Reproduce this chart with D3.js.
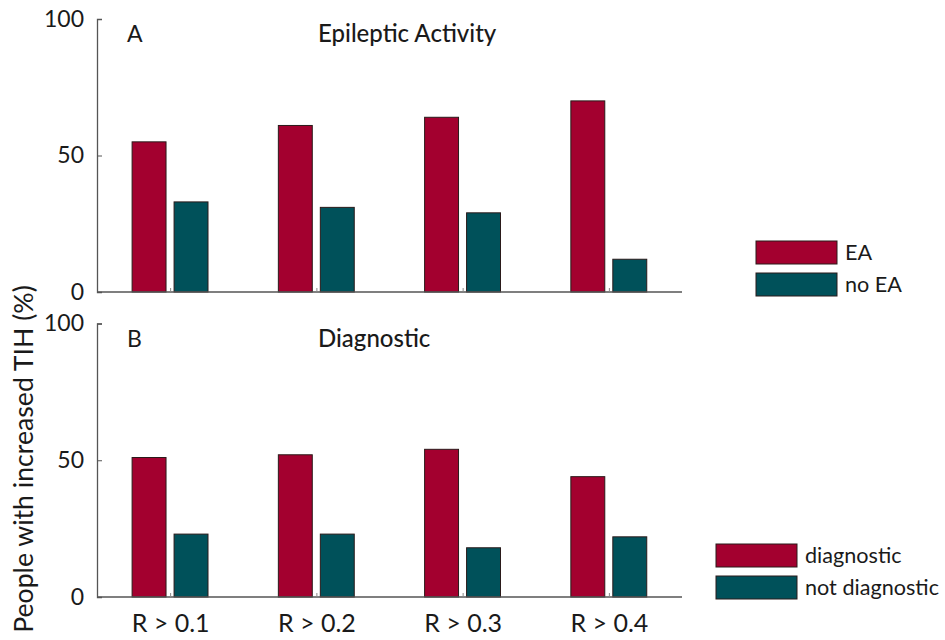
<!DOCTYPE html>
<html>
<head>
<meta charset="utf-8">
<script src="https://d3js.org/d3.v7.min.js"></script>
<style>
  html, body { margin: 0; padding: 0; background: #fff; }
  svg { display: block; }
  text { font-family: Lato, "Open Sans", sans-serif; fill: #1a1a1a; }
</style>
</head>
<body>
<svg id="chart" width="945" height="640"></svg>
<script>
// ---- data ----
const categories = ["R > 0.1", "R > 0.2", "R > 0.3", "R > 0.4"];
const eaValues = [55, 61, 64, 70];
const noEaValues = [33, 31, 29, 12];
const diagnosticValues = [51, 52, 54, 44];
const notDiagnosticValues = [23, 23, 18, 22];
const yTicks = [0, 50, 100];
const panelALabels = { letter: "A", title: "Epileptic Activity", series: ["EA", "no EA"] };
const panelBLabels = { letter: "B", title: "Diagnostic", series: ["diagnostic", "not diagnostic"] };
const yAxisTitle = "People with increased TIH (%)";

// ---- style ----
const colors = ["#A3002F", "#00515A"];
const axisColor = "#555";

const svg = d3.select("#chart");

// legend font size fitted so "not diagnostic" spans ~134px
const probe = svg.append("text").attr("font-size", 24).text("not diagnostic");
const legendFont = 24 * 134 / probe.node().getComputedTextLength();
probe.remove();

const x = d3.scaleLinear().domain([0.5, categories.length + 0.5]).range([97, 682]);
const barW = 0.232;
const offsets = [-0.26, 0.027];

function panel(cfg) {
  const y = d3.scaleLinear().domain([0, 100]).range([cfg.y0, cfg.y100]);
  const g = svg.append("g");
  const series = [cfg.a, cfg.b];

  // bars
  series.forEach((vals, s) => {
    g.selectAll(null).data(vals).enter().append("rect")
      .attr("x", (d, i) => x(i + 1 + offsets[s]))
      .attr("width", x(1 + barW) - x(1))
      .attr("y", d => y(d))
      .attr("height", d => y(0) - y(d))
      .attr("fill", colors[s])
      .attr("stroke", "#2a1a1a")
      .attr("stroke-width", 1);
  });

  // y axis
  const yAxis = d3.axisLeft(y).tickValues(yTicks).tickSize(-5).tickPadding(13).tickFormat(d3.format("d"));
  const ya = g.append("g").attr("transform", `translate(${x(0.5)},0)`).call(yAxis);
  ya.select(".domain").attr("stroke", axisColor).attr("stroke-width", 1.3);
  ya.selectAll(".tick line").attr("stroke", axisColor);
  ya.selectAll(".tick text").attr("font-family", "'Open Sans', sans-serif").attr("font-size", 23).attr("fill", "#222");

  // x axis
  const xAxis = d3.axisBottom(x).tickValues(d3.range(1, categories.length + 1))
    .tickSize(-4).tickPadding(16).tickFormat(d => cfg.showX ? categories[d - 1] : "");
  const xa = g.append("g").attr("transform", `translate(0,${y(0)})`).call(xAxis);
  xa.select(".domain").attr("stroke", axisColor).attr("stroke-width", 1.3)
    .attr("d", `M${x(0.5)},0H${x(categories.length + 0.5)}`);
  xa.selectAll(".tick line").attr("stroke", "#888");
  xa.selectAll(".tick text").attr("font-size", 25).attr("fill", "#222").attr("dy", "0.75em");

  // panel letter + title
  g.append("text").attr("x", 127).attr("y", cfg.y100 + 23).attr("font-size", 23).text(cfg.labels.letter);
  g.append("text").attr("x", 318).attr("y", cfg.y100 + 23).attr("font-size", 24).attr("font-weight", 500).text(cfg.labels.title);

  // legend
  cfg.labels.series.forEach((name, s) => {
    const ly = cfg.legY + s * 32;
    g.append("rect").attr("x", cfg.legX).attr("y", ly).attr("width", 81).attr("height", 23)
      .attr("fill", colors[s]).attr("stroke", "#2a1a1a").attr("stroke-width", 1);
    g.append("text").attr("x", cfg.legX + 89).attr("y", ly + 19).attr("font-size", legendFont).text(name);
  });
}

panel({ y0: 292, y100: 19, a: eaValues, b: noEaValues, labels: panelALabels, legX: 756, legY: 241, showX: false });
panel({ y0: 597, y100: 323.5, a: diagnosticValues, b: notDiagnosticValues, labels: panelBLabels, legX: 716, legY: 544, showX: true });

// y axis title, fitted to span
const yt = svg.append("text")
  .attr("transform", "translate(33,459) rotate(-90)")
  .attr("text-anchor", "middle")
  .attr("font-size", 24)
  .text(yAxisTitle);
const len = yt.node().getComputedTextLength();
yt.attr("font-size", 24 * 348 / len);
</script>
</body>
</html>
